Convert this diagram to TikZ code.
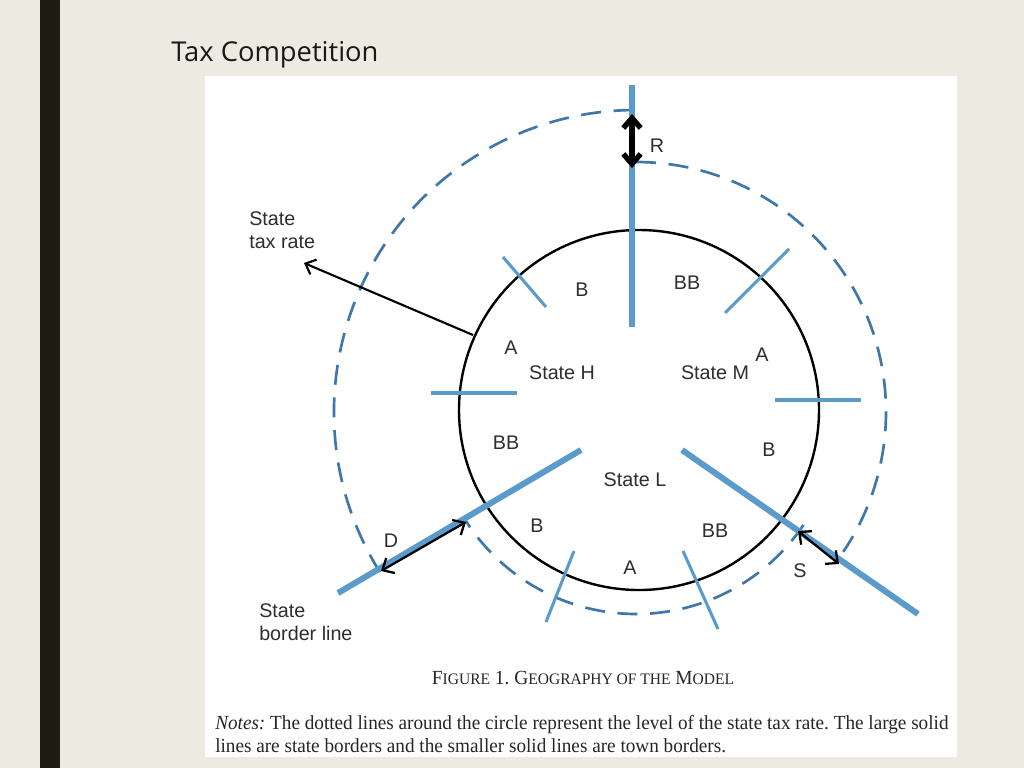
\documentclass[tikz,border=0pt]{standalone}
\usepackage{fontspec}
\setmainfont{Liberation Serif}
\setsansfont{Liberation Sans}
\newfontfamily\titlefont{Open Sans}
\usetikzlibrary{arrows.meta}
\definecolor{slide}{HTML}{EDEAE2}
\definecolor{bar}{HTML}{1D1C12}
\definecolor{border}{HTML}{5B9BCB}
\definecolor{taxline}{HTML}{3F78A8}
\newcommand{\fsc}[2]{#1{\fontsize{12}{14}\selectfont #2}}
\frenchspacing
\tikzset{
    stateline/.style = {line width = 4.5pt, draw = border},
    townline/.style = {line width = 2.3pt, draw = border},
    taxlevel/.style = {line width = 2pt, draw = taxline, dash pattern = on 15pt off 9.5pt},
    lbl/.style = {font = \sffamily\fontsize{14.8}{17.3}\selectfont, text = black!82, inner sep = 0pt, align = left},
    pointer/.style = {line width = 1.7pt, {Straight Barb[length = 7pt, width = 13pt]}-{Straight Barb[length = 7pt, width = 13pt]}},
}
\begin{document}
\begin{tikzpicture}[x = 0.75pt, y = -0.75pt, >={Straight Barb[length = 6.5pt, width = 12pt]}]
    \def\cx{636}
    \def\cy{412}
    \useasboundingbox (0, 0) rectangle (1024, 768);
    \fill[slide] (0, 0) rectangle (1024, 768);
    \fill[bar] (40, 0) rectangle (60, 768);
    \node[anchor = west, inner sep = 0pt, font = \titlefont\fontsize{20.5}{25}\selectfont, text = black!90] (title) at (171, 55) {Tax Competition};
    \fill[white] (205, 76) rectangle (957, 757);

    % tax levels of the three states
    \coordinate (c) at (\cx, \cy);
    \draw[taxlevel] (c) ++(148:302) arc[start angle = 148, end angle = 270, radius = 302];
    \draw[taxlevel] (c) ++(-90:250) arc[start angle = -90, end angle = 34, radius = 250];
    \draw[taxlevel] (c) ++(34:202) arc[start angle = 34, end angle = 148, radius = 202];

    % the region
    \draw[line width = 1.8pt] (639, 410) circle[radius = 180];

    % state borders
    \draw[stateline] (632, 85) -- (632, 327);
    \draw[stateline] (581, 450) -- (338, 593);
    \draw[stateline] (682, 450) -- (918, 614);

    % town borders
    \draw[townline] (503, 257) -- (546, 307);
    \draw[townline] (431, 393) -- (517, 393);
    \draw[townline] (789, 249) -- (725, 313);
    \draw[townline] (775, 400) -- (861, 400);
    \draw[townline] (574, 551) -- (546, 622);
    \draw[townline] (683, 551) -- (718, 629);

    % gaps between tax levels
    \coordinate (rtop) at (632, 114);
    \coordinate (rbot) at (632, 168);
    \coordinate (dout) at (381, 571);
    \coordinate (din) at (466, 522);
    \coordinate (sin) at (798, 531);
    \coordinate (sout) at (839, 564);
    \draw[line width = 4pt, {Straight Barb[length = 7.5pt, width = 13pt]}-{Straight Barb[length = 7.5pt, width = 13pt]}] (rtop) -- (rbot);
    \draw[pointer] (dout) -- (din);
    \draw[pointer] (sin) -- (sout);
    \node[lbl] (R) at (657, 146) {R};
    \node[lbl] (D) at (391, 541) {D};
    \node[lbl] (S) at (800, 571) {S};

    % outside labels
    \node[lbl, anchor = north west] (taxrate) at (249, 211) {State\\tax rate};
    \coordinate (rim) at (473, 335);
    \coordinate (tip) at (304, 263);
    \draw[line width = 1.6pt, ->] (rim) -- (tip);
    \node[lbl, anchor = north west] (borderline) at (259, 603) {State\\border line};

    % states and towns
    \node[lbl] (stateH) at (562, 373) {State H};
    \node[lbl] (stateM) at (715, 373) {State M};
    \node[lbl] (stateL) at (635, 480) {State L};
    \node[lbl] (hB) at (582, 290) {B};
    \node[lbl] (hA) at (511, 348) {A};
    \node[lbl] (hBB) at (506, 443) {BB};
    \node[lbl] (mBB) at (687, 283) {BB};
    \node[lbl] (mA) at (762, 355) {A};
    \node[lbl] (mB) at (769, 450) {B};
    \node[lbl] (lB) at (537, 526) {B};
    \node[lbl] (lA) at (630, 568) {A};
    \node[lbl] (lBB) at (715, 531) {BB};

    % caption
    \node[inner sep = 0pt, font = \fontsize{15}{18}\selectfont, xscale = 0.97, transform shape, text = black!85] (caption) at (583, 678)
        {\fsc{F}{IGURE} 1. \fsc{G}{EOGRAPHY OF THE} \fsc{M}{ODEL}};
    \node[inner sep = 0pt, anchor = base west, font = \fontsize{15}{18}\selectfont, xscale = 0.96, transform shape, text = black!85] (notes1) at (215, 729)
        {\textit{Notes:} The dotted lines around the circle represent the level of the state tax rate. The large solid};
    \node[inner sep = 0pt, anchor = base west, font = \fontsize{15}{18}\selectfont, xscale = 0.96, transform shape, text = black!85] (notes2) at (215, 752)
        {lines are state borders and the smaller solid lines are town borders.};
\end{tikzpicture}
\end{document}
